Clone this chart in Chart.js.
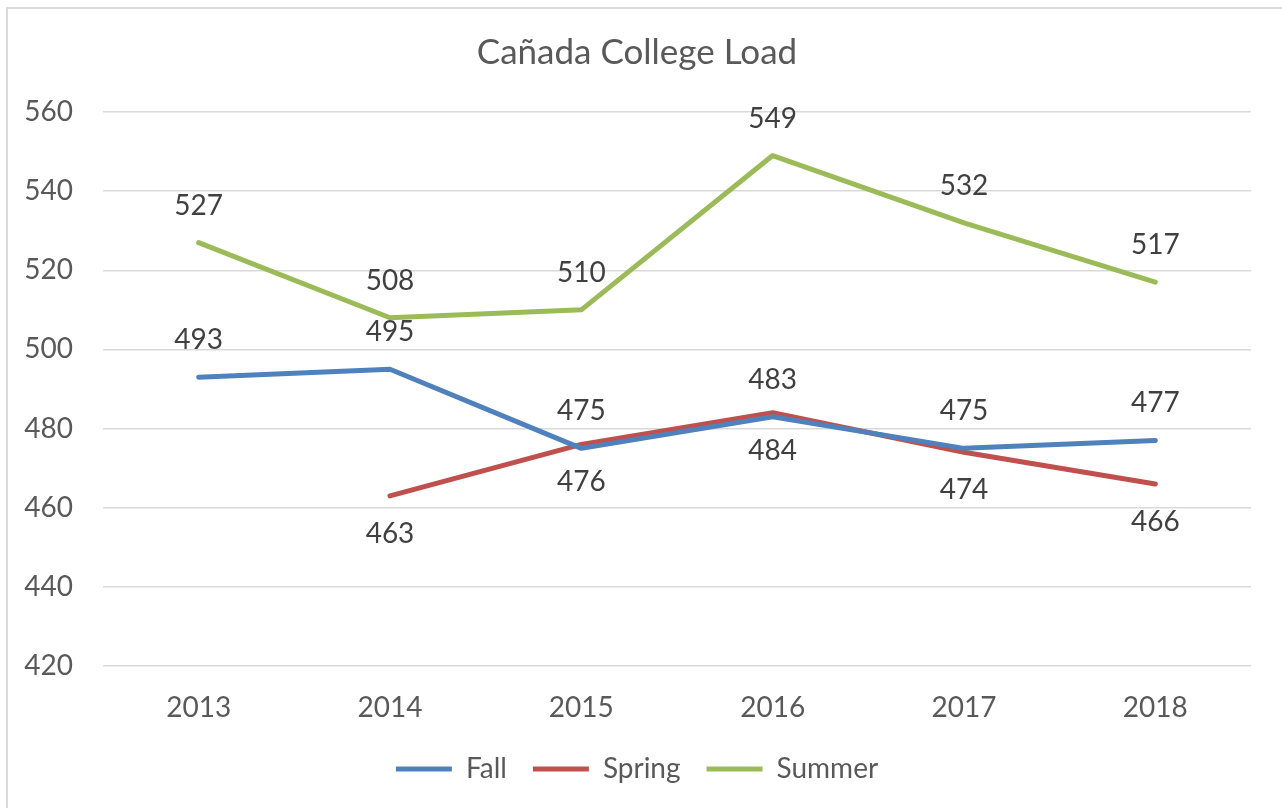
<!DOCTYPE html>
<html>
<head>
<meta charset="utf-8">
<script src="https://cdn.jsdelivr.net/npm/chart.js@4/dist/chart.umd.min.js"></script>
<style>
  html, body { margin: 0; padding: 0; background: #fff; }
  #frame { position: absolute; left: 6px; top: 7px; width: 1274px; height: 810px; border: 2px solid #d9d9d9; }
  #wrap { position: absolute; left: 0; top: 0; width: 1282px; height: 808px; }
</style>
</head>
<body>
<div id="frame"></div>
<div id="wrap"><canvas id="chart" width="1282" height="808"></canvas></div>
<script>
// Dados do grafico
var years = ['2013', '2014', '2015', '2016', '2017', '2018'];
var fall = [493, 495, 475, 483, 475, 477];
var spring = [null, 463, 476, 484, 474, 466];
var summer = [527, 508, 510, 549, 532, 517];
var yTicks = [420, 440, 460, 480, 500, 520, 540, 560];

var FONT = 'Lato, "Open Sans", sans-serif';

// rotulos de dados (acima ou abaixo do ponto)
var dataLabels = {
    id: 'dataLabels',
    afterDatasetsDraw: function(chart) {
        var ctx = chart.ctx;
        ctx.save();
        ctx.font = '28px ' + FONT;
        ctx.fillStyle = '#404040';
        ctx.textAlign = 'center';
        ctx.textBaseline = 'middle';
        chart.data.datasets.forEach(function(ds, i) {
            var meta = chart.getDatasetMeta(i);
            meta.data.forEach(function(pt, j) {
                var v = ds.data[j];
                if (v === null) return;
                var dy = ds.labelPos === 'below' ? 38 : -37;
                ctx.fillText(String(v), pt.x, pt.y + dy);
            });
        });
        ctx.restore();
    }
};

function serie(label, data, color, pos) {
    return {
        label: label,
        data: data,
        borderColor: color,
        backgroundColor: color,
        borderWidth: 5,
        borderCapStyle: 'round',
        borderJoinStyle: 'round',
        pointRadius: 0,
        pointHoverRadius: 0,
        pointStyle: 'line',
        tension: 0,
        fill: false,
        spanGaps: false,
        labelPos: pos
    };
}

new Chart(document.getElementById('chart'), {
    type: 'line',
    data: {
        labels: years,
        datasets: [
            serie('Fall', fall, '#4f81bd', 'above'),
            serie('Spring', spring, '#c0504d', 'below'),
            serie('Summer', summer, '#9bbb59', 'above')
        ]
    },
    options: {
        responsive: false,
        animation: false,
        layout: { padding: { left: 23, right: 31, top: 0, bottom: 15 } },
        plugins: {
            title: {
                display: true,
                text: 'Cañada College Load',
                color: '#595959',
                font: { family: FONT, size: 35, weight: 'normal' },
                padding: { top: 32, bottom: 38 }
            },
            legend: {
                position: 'bottom',
                labels: {
                    usePointStyle: true,
                    pointStyle: 'line',
                    pointStyleWidth: 56,
                    padding: 26,
                    color: '#595959',
                    font: { family: FONT, size: 28 }
                }
            },
            tooltip: { enabled: false }
        },
        scales: {
            x: {
                offset: true,
                grid: { display: false },
                border: { display: false },
                ticks: { color: '#595959', padding: 17, font: { family: FONT, size: 28 } },
                afterFit: function(s) { s.height = 63; }
            },
            y: {
                min: 420,
                max: 560,
                afterBuildTicks: function(s) { s.ticks = yTicks.map(function(v) { return { value: v }; }); },
                grid: { color: '#d9d9d9', lineWidth: 1.5, drawTicks: false },
                border: { display: false },
                ticks: { color: '#595959', padding: 30, font: { family: FONT, size: 28 } },
                afterFit: function(s) { s.width = 80; }
            }
        }
    },
    plugins: [dataLabels]
});
</script>
</body>
</html>
